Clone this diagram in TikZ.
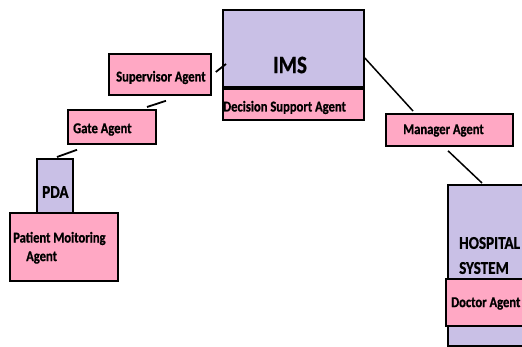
\documentclass[tikz,border=0pt]{standalone}
\usepackage{fontspec}
\setmainfont{Carlito}[FakeStretch=0.84,BoldFont={Carlito Bold},BoldFeatures={FakeBold=0.8}]
\usetikzlibrary{calc}
\definecolor{lav}{RGB}{201,192,230}
\definecolor{pinkb}{RGB}{255,168,196}
\begin{document}
\begin{tikzpicture}[x=1pt,y=-1pt,
  box/.style={draw=black,line width=1.8pt,anchor=north west,inner sep=0pt},
  sysbox/.style={box,fill=lav},
  agbox/.style={box,fill=pinkb},
  lbl/.style={font=\bfseries\fontsize{15}{17}\selectfont,inner sep=0pt,anchor=west,yshift=-1.5pt},
  biglbl/.style={font=\bfseries\fontsize{18}{20}\selectfont,inner sep=0pt,anchor=west,yshift=-1pt},
  conn/.style={line width=1.8pt}]
\useasboundingbox (0,0) rectangle (522,347);
\clip (0,0) rectangle (522,347);
% boxes
\node[sysbox,minimum width=141pt,minimum height=77pt] (ims) at (222,9) {};
\node[agbox,minimum width=141pt,minimum height=31pt] (dsa) at (222,88) {};
\node[agbox,minimum width=102pt,minimum height=41pt] (sup) at (108,53) {};
\node[agbox,minimum width=88pt,minimum height=34pt] (gate) at (67,109) {};
\node[sysbox,minimum width=36pt,minimum height=54pt] (pda) at (36,158) {};
\node[agbox,minimum width=108pt,minimum height=68pt] (pma) at (9,212) {};
\node[agbox,minimum width=127pt,minimum height=32pt] (mgr) at (385,113) {};
\node[sysbox,minimum width=90pt,minimum height=161pt] (hosp) at (447,184) {};
\node[agbox,minimum width=90pt,minimum height=47pt] (doc) at (445,278) {};
% labels
\node[font=\bfseries\fontsize{25}{27}\selectfont,inner sep=0pt] (imst) at (290,65) {IMS};
\node[lbl] (dsat) at (223,106) {Decision Support Agent};
\node[lbl] (supt) at (116,76) {Supervisor Agent};
\node[lbl] (gatet) at (73,128) {Gate Agent};
\node[biglbl] (pdat) at (42,191) {PDA};
\node[lbl] (pmat1) at (13,237) {Patient Moitoring};
\node[lbl] (pmat2) at (26,256) {Agent};
\node[lbl] (mgrt) at (403,129) {Manager Agent};
\node[biglbl] (hospt1) at (459,242) {HOSPITAL};
\node[biglbl] (hospt2) at (459,267) {SYSTEM};
\node[lbl] (doct) at (451,302) {Doctor Agent};
% connectors
\draw[conn] ($(pda.north west)+(21,-1)$) -- ($(gate.south west)+(10,5)$);
\draw[conn] ($(gate.north west)+(80,-2)$) -- ($(sup.south west)+(58,5)$);
\draw[conn] ($(sup.north east)+(4,19)$) -- ($(ims.north west)+(4,55)$);
\draw[line width=1.5pt] ($(ims.north east)+(0,49)$) -- ($(mgr.north west)+(28,-2)$);
\draw[line width=1.5pt] ($(mgr.south west)+(63,4)$) -- ($(hosp.north west)+(35,-1)$);
\end{tikzpicture}
\end{document}
